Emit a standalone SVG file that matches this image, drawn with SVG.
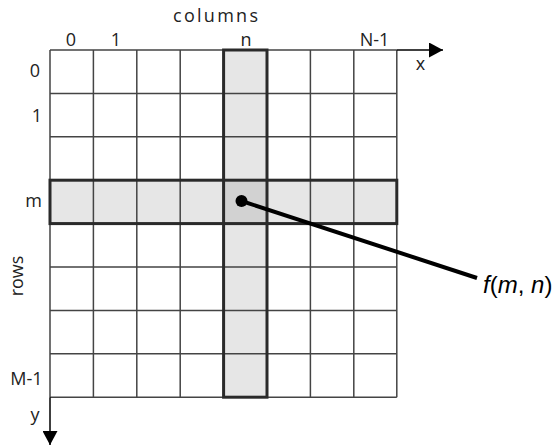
<svg xmlns="http://www.w3.org/2000/svg" width="559" height="445" viewBox="0 0 559 445">
<style>
.lbl{font-family:"Open Sans","Liberation Sans",sans-serif;font-size:18px;fill:#222}
.thin{stroke:#444;stroke-width:1.5;fill:none}
.thick{stroke:#2a2a2a;stroke-width:3;fill:none}
.f{font-family:"Liberation Sans",Arial,sans-serif;font-size:24px;fill:#000}
</style>
<defs>
<marker id="ah" viewBox="0 0 14 15" refX="14" refY="7.5" markerWidth="14" markerHeight="15" markerUnits="userSpaceOnUse" orient="auto">
<path d="M0,0 L14,7.5 L0,15 Z" fill="#000"/>
</marker>
</defs>
<rect width="559" height="445" fill="#fff"/>
<g id="grid">
<rect x="223.6" y="50" width="43.4" height="347" fill="#e6e6e6"/>
<rect x="50" y="180.2" width="347" height="43.4" fill="#e6e6e6"/>
<rect x="223.6" y="180.2" width="43.4" height="43.4" fill="#d2d2d2"/>
<path class="thin" d="M50,50H396.8M50,93.4H396.8M50,136.8H396.8M50,180.2H396.8M50,223.6H396.8M50,267H396.8M50,310.4H396.8M50,353.8H396.8M50,397.2H396.8"/>
<path class="thin" d="M50,50V397.2M93.4,50V397.2M136.8,50V397.2M180.2,50V397.2M223.6,50V397.2M267,50V397.2M310.4,50V397.2M353.8,50V397.2M396.8,50V397.2"/>
<rect class="thick" x="223.6" y="50" width="43.4" height="347.2"/>
<rect class="thick" x="50" y="180.2" width="346.8" height="43.4"/>
</g>
<g id="axes">
<line x1="396.8" y1="50" x2="443" y2="50" stroke="#000" stroke-width="1.5" marker-end="url(#ah)"/>
<line x1="50" y1="397.2" x2="50" y2="445" stroke="#000" stroke-width="1.5" marker-end="url(#ah)"/>
</g>
<g id="labels">
<text class="lbl" x="215.5" y="22" textLength="85" text-anchor="middle">columns</text>
<text class="lbl" x="71" y="46" text-anchor="middle">0</text>
<text class="lbl" x="116" y="46" text-anchor="middle">1</text>
<text class="lbl" x="246" y="46" text-anchor="middle">n</text>
<text class="lbl" x="374.5" y="46" text-anchor="middle">N-1</text>
<text class="lbl" x="420.5" y="70" text-anchor="middle">x</text>
<text class="lbl" x="35" y="77" text-anchor="middle">0</text>
<text class="lbl" x="37" y="122" text-anchor="middle">1</text>
<text class="lbl" x="33.5" y="207" text-anchor="middle">m</text>
<text class="lbl" x="26.5" y="385" text-anchor="middle">M-1</text>
<text class="lbl" x="35" y="421" text-anchor="middle">y</text>
<text class="lbl" transform="translate(23,276) rotate(-90)" text-anchor="middle">rows</text>
</g>
<g id="connectors">
<line x1="241.5" y1="201" x2="477" y2="278" stroke="#000" stroke-width="4"/>
<circle cx="241.5" cy="201" r="6" fill="#000"/>
</g>
<g id="fmn">
<text class="f" x="483" y="293"><tspan font-style="italic">f</tspan>(<tspan font-style="italic">m</tspan>, <tspan font-style="italic">n</tspan>)</text>
</g>
</svg>
